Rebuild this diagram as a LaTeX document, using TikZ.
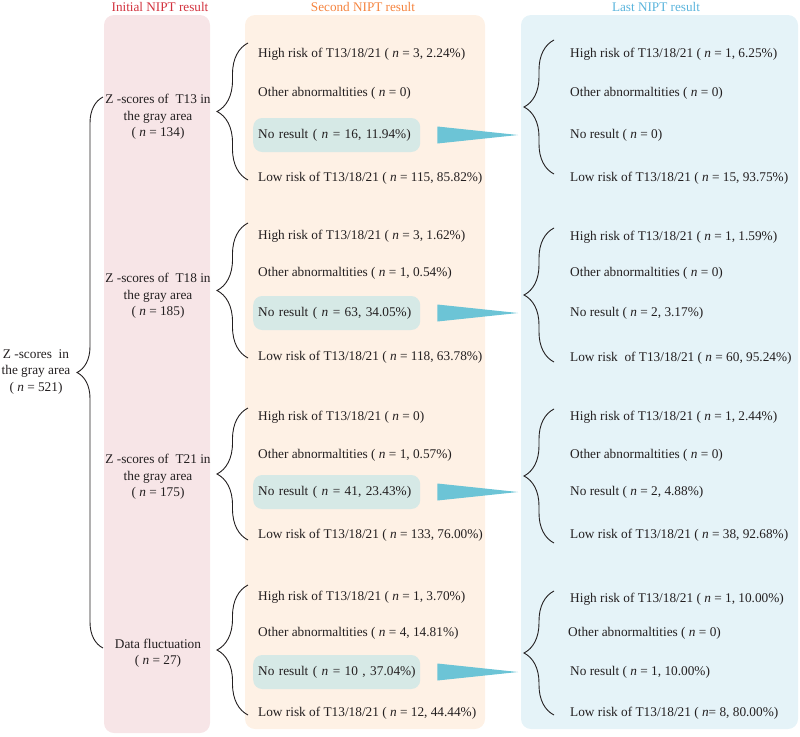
\documentclass[tikz,border=0pt]{standalone}
\usepackage{fontspec}
\setmainfont{Liberation Serif}
\usetikzlibrary{decorations.pathreplacing,calc}
\definecolor{pinkbg}{HTML}{F7E5E7}
\definecolor{orangebg}{HTML}{FEF1E5}
\definecolor{bluebg}{HTML}{E5F3F8}
\definecolor{nrbg}{HTML}{D6E9E6}
\definecolor{wedgecol}{HTML}{6CC4D6}
\definecolor{hred}{HTML}{D2323E}
\definecolor{horange}{HTML}{F5843F}
\definecolor{hblue}{HTML}{5AB4DC}
\definecolor{txtcol}{HTML}{231F20}
\newcommand{\nn}{( \textit{n} = }
\begin{document}
\begin{tikzpicture}[x=1pt,y=-1pt,
  every node/.style={text=txtcol},
  bodyfont/.style={font=\fontsize{13.3}{16.5}\selectfont},
  txt/.style={bodyfont, anchor=west, inner sep=0pt},
  midtxt/.style={bodyfont, align=center, inner sep=0pt},
  hdr/.style={font=\fontsize{13.2}{16}\selectfont, inner sep=0pt},
  panel/.style={rounded corners=10pt, draw=none},
  nrbox/.style={bodyfont, anchor=west, fill=nrbg, rounded corners=9pt, text width=157pt, align=left, inner xsep=5pt, inner ysep=0pt, minimum height=34pt},
  brc/.style={draw=txtcol, line width=0.9pt, decorate, decoration={brace, amplitude=#1}},
  wedge/.style={fill=wedgecol, draw=none}]
\useasboundingbox (0,0) rectangle (800,736);
% panels
\fill[panel, pinkbg] (104,15) rectangle (210,733);
\fill[panel, orangebg] (245,15) rectangle (485,729);
\fill[panel, bluebg] (521,15) rectangle (798,729);
% headers
\node[hdr, text=hred] (h1) at (160,7) {Initial NIPT result};
\node[hdr, text=horange] (h2) at (363,7) {Second NIPT result};
\node[hdr, text=hblue] (h3) at (656,7) {Last NIPT result};
% left
\node[midtxt] (root) at (36,372) {Z -scores\ \ in\\the gray area\\\nn 521)};
% initial column
\node[midtxt] (i1) at (158,117) {Z -scores of\ \ T13 in\\the gray area\\\nn 134)};
\node[midtxt] (i2) at (158,296) {Z -scores of\ \ T18 in\\the gray area\\\nn 185)};
\node[midtxt] (i3) at (158,477) {Z -scores of\ \ T21 in\\the gray area\\\nn 175)};
\node[midtxt] (i4) at (158,653) {Data fluctuation\\\nn 27)};
% second column
\node[txt] (a1) at (258,54) {High risk of T13/18/21 \nn 3, 2.24\%)};
\node[txt] (b1) at (258,93) {Other abnormaltities \nn 0)};
\node[nrbox] (c1) at (253,135) {\mbox{No result \nn 16, 11.94\%)}};
\node[txt] (d1) at (258,178) {Low risk of T13/18/21 \nn 115, 85.82\%)};
\node[txt] (a2) at (258,236) {High risk of T13/18/21 \nn 3, 1.62\%)};
\node[txt] (b2) at (258,273) {Other abnormaltities \nn 1, 0.54\%)};
\node[nrbox] (c2) at (253,313) {\mbox{No result \nn 63, 34.05\%)}};
\node[txt] (d2) at (258,357) {Low risk of T13/18/21 \nn 118, 63.78\%)};
\node[txt] (a3) at (258,417) {High risk of T13/18/21 \nn 0)};
\node[txt] (b3) at (258,455) {Other abnormaltities \nn 1, 0.57\%)};
\node[nrbox] (c3) at (253,492) {\mbox{No result \nn 41, 23.43\%)}};
\node[txt] (d3) at (258,535) {Low risk of T13/18/21 \nn 133, 76.00\%)};
\node[txt] (a4) at (258,597) {High risk of T13/18/21 \nn 1, 3.70\%)};
\node[txt] (b4) at (258,633) {Other abnormaltities \nn 4, 14.81\%)};
\node[nrbox] (c4) at (253,672) {\mbox{No result \nn 10 , 37.04\%)}};
\node[txt] (d4) at (258,713) {Low risk of T13/18/21 \nn 12, 44.44\%)};
% last column
\node[txt] (p1) at (570,54) {High risk of T13/18/21 \nn 1, 6.25\%)};
\node[txt] (q1) at (570,93) {Other abnormaltities \nn 0)};
\node[txt] (r1) at (570,135) {No result \nn 0)};
\node[txt] (s1) at (570,178) {Low risk of T13/18/21 \nn 15, 93.75\%)};
\node[txt] (p2) at (570,237) {High risk of T13/18/21 \nn 1, 1.59\%)};
\node[txt] (q2) at (570,273) {Other abnormaltities \nn 0)};
\node[txt] (r2) at (570,313) {No result \nn 2, 3.17\%)};
\node[txt] (s2) at (570,358) {Low risk\ \ of T13/18/21 \nn 60, 95.24\%)};
\node[txt] (p3) at (570,417) {High risk of T13/18/21 \nn 1, 2.44\%)};
\node[txt] (q3) at (570,455) {Other abnormaltities \nn 0)};
\node[txt] (r3) at (570,492) {No result \nn 2, 4.88\%)};
\node[txt] (s3) at (570,535) {Low risk of T13/18/21 \nn 38, 92.68\%)};
\node[txt] (p4) at (570,599) {High risk of T13/18/21 \nn 1, 10.00\%)};
\node[txt] (q4) at (568,633) {Other abnormaltities \nn 0)};
\node[txt] (r4) at (570,672) {No result \nn 1, 10.00\%)};
\node[txt] (s4) at (570,713) {Low risk of T13/18/21 ( \textit{n}= 8, 80.00\%)};
% brace end coordinates
\coordinate (rt) at (103,97);  \coordinate (rb) at (103,648);
\coordinate (g1t) at (248,43);  \coordinate (g1b) at (248,180);
\coordinate (g2t) at (248,223); \coordinate (g2b) at (248,358);
\coordinate (g3t) at (248,408); \coordinate (g3b) at (248,540);
\coordinate (g4t) at (248,585); \coordinate (g4b) at (248,715);
\coordinate (l1t) at (554,40);  \coordinate (l1b) at (554,174);
\coordinate (l2t) at (554,228); \coordinate (l2b) at (554,362);
\coordinate (l3t) at (554,409); \coordinate (l3b) at (554,543);
\coordinate (l4t) at (554,591); \coordinate (l4b) at (554,715);
% braces
\draw[brc=26pt] (rb) -- (rt);
\foreach \g in {1,2,3,4}{
  \draw[brc=31pt] (g\g b) -- (g\g t);
  \draw[brc=30pt] (l\g b) -- (l\g t);
}
% wedges
\foreach \g/\ty in {1/135,2/313,3/492,4/672}{
  \coordinate (tip\g) at (518,\ty);
  \fill[wedge] ($(c\g.east)+(17,-8.5)$) -- (tip\g) -- ($(c\g.east)+(17,8.5)$) -- cycle;
}
\end{tikzpicture}
\end{document}
